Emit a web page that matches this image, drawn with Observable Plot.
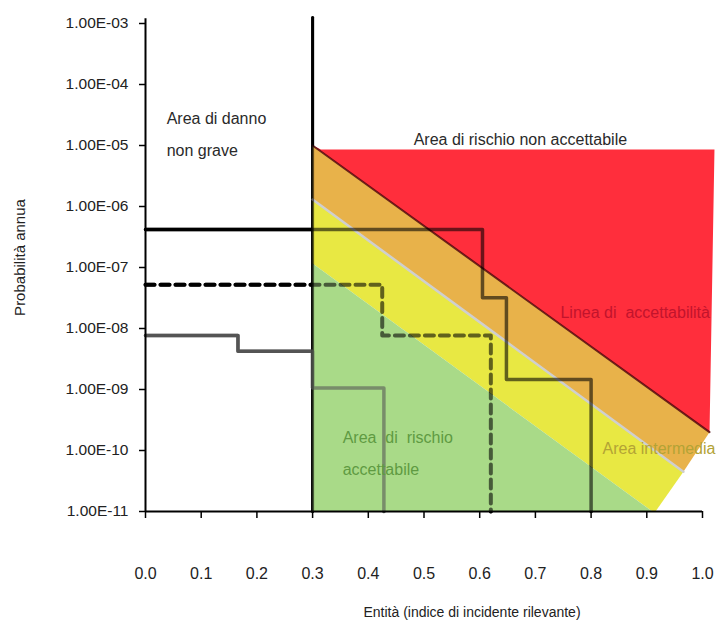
<!DOCTYPE html>
<html><head><meta charset="utf-8">
<script src="https://cdn.jsdelivr.net/npm/d3@7"></script>
<script src="https://cdn.jsdelivr.net/npm/@observablehq/plot@0.6"></script>
<style>
body{margin:0;background:#fff;}
#chart svg{display:block;}
</style></head><body><div id="chart"></div>
<script>
// Axis ticks and labels
const xTicks = [0, 0.1, 0.2, 0.3, 0.4, 0.5, 0.6, 0.7, 0.8, 0.9, 1.0];
const xTickLabels = ["0.0","0.1","0.2","0.3","0.4","0.5","0.6","0.7","0.8","0.9","1.0"];
const yTicks = [1e-11, 1e-10, 1e-9, 1e-8, 1e-7, 1e-6, 1e-5, 1e-4, 1e-3];
const yTickLabels = ["1.00E-11","1.00E-10","1.00E-09","1.00E-08","1.00E-07","1.00E-06","1.00E-05","1.00E-04","1.00E-03"];
const xTitle = "Entità (indice di incidente rilevante)";
const yTitle = "Probabilità annua";

// Region vertices (x = entità, y = probabilità)
const redX = [0.3, 0.315, 1.0215, 1.0126];
const redY = [1e-5, 8.6e-6, 8.6e-6, 2e-10];
const orangeX = [0.3, 1.0126, 0.9657, 0.3];
const orangeY = [1e-5, 2e-10, 4.5e-11, 1.3e-6];
const yellowX = [0.3, 0.9657, 0.9156, 0.91, 0.3];
const yellowY = [1.3e-6, 4.5e-11, 1e-11, 1e-11, 1.16e-7];
const greenX = [0.3, 0.91, 0.3];
const greenY = [1.16e-7, 1e-11, 1e-11];

// Boundary lines
const acceptX = [0.3, 1.0126];
const acceptY = [1e-5, 2e-10];
const grayBoundX = [0.3, 0.9657];
const grayBoundY = [1.3e-6, 4.5e-11];

// Threshold line at entità 0.3
const vertX = [0.3, 0.3];
const vertY = [1e-11, 1.25e-3];

// Step curves
const solidX = [0, 0.605, 0.605, 0.648, 0.648, 0.8, 0.8];
const solidY = [4.2e-7, 4.2e-7, 3.2e-8, 3.2e-8, 1.46e-9, 1.46e-9, 1e-11];
const dashedX = [0, 0.425, 0.425, 0.62, 0.62];
const dashedY = [5.2e-8, 5.2e-8, 7.7e-9, 7.7e-9, 1e-11];
const grayX = [0, 0.166, 0.166, 0.3, 0.3, 0.428, 0.428];
const grayY = [7.7e-9, 7.7e-9, 4.25e-9, 4.25e-9, 1.06e-9, 1.06e-9, 1e-11];

// Annotations
const annoText = ["Area di danno", "non grave", "Area di rischio non accettabile", "Linea di  accettabilità", "Area intermedia", "Area  di  rischio", "accettabile"];
const annoX = [0.038, 0.038, 0.673, 0.745, 0.8205, 0.354, 0.354];
const annoY = [2.77e-5, 8.3e-6, 1.25e-5, 1.83e-8, 1.08e-10, 1.63e-10, 4.9e-11];
const annoAnchor = ["start", "start", "middle", "start", "start", "start", "start"];
const annoColor = ["#2a2a2a", "#2a2a2a", "#2a2a2a", "#c2142c", "#b3a335", "#5f9a42", "#5f9a42"];

const pts = (xs, ys) => xs.map((x, i) => ({x, y: ys[i]}));
const red = pts(redX, redY), orange = pts(orangeX, orangeY), yellow = pts(yellowX, yellowY), green = pts(greenX, greenY);
const solid = pts(solidX, solidY), dashed = pts(dashedX, dashedY), gray = pts(grayX, grayY), vert = pts(vertX, vertY);
const accept = pts(acceptX, acceptY), grayBound = pts(grayBoundX, grayBoundY);
const annos = annoText.map((t, i) => ({t, x: annoX[i], y: annoY[i], a: annoAnchor[i], c: annoColor[i]}));

const stepMarks = (op) => [
  Plot.line(vert, {x: "x", y: "y", stroke: "#000", strokeWidth: 3, strokeOpacity: op}),
  Plot.line(gray, {x: "x", y: "y", stroke: "#555", strokeWidth: 3.5, strokeOpacity: op}),
  Plot.line(solid, {x: "x", y: "y", stroke: "#000", strokeWidth: 3.5, strokeOpacity: op}),
  Plot.line(dashed, {x: "x", y: "y", stroke: "#000", strokeWidth: 4, strokeDasharray: "9,6", strokeOpacity: op})
];

const chart = Plot.plot({
  width: 716,
  height: 621,
  marginLeft: 145,
  marginRight: 14,
  marginTop: 23,
  marginBottom: 110,
  style: {fontFamily: "'Liberation Sans', Arial, sans-serif", background: "#fff", color: "#000"},
  x: {domain: [0, 1]},
  y: {type: "log", domain: [1e-11, 1e-3]},
  marks: [
    ...stepMarks(1),
    Plot.line(red, {x: "x", y: "y", fill: "#ff2e3c", stroke: "none"}),
    Plot.line(orange, {x: "x", y: "y", fill: "#e8b24a", stroke: "none"}),
    Plot.line(yellow, {x: "x", y: "y", fill: "#e8e843", stroke: "none"}),
    Plot.line(green, {x: "x", y: "y", fill: "#a9da88", stroke: "none"}),
    Plot.line(grayBound, {x: "x", y: "y", stroke: "#cfcfcf", strokeWidth: 2.5}),
    Plot.line(accept, {x: "x", y: "y", stroke: "#4a0008", strokeWidth: 2, strokeOpacity: 0.8}),
    ...stepMarks(0.58),
    Plot.ruleY([1e-11], {stroke: "#000", strokeWidth: 2}),
    Plot.ruleX([0], {y1: 1e-11, y2: 1.2e-3, stroke: "#000", strokeWidth: 2}),
    Plot.axisX(xTicks, {tickSize: 7, tickPadding: 49, tickFormat: d => xTickLabels[xTicks.indexOf(d)], fontSize: 16, fill: "#222", stroke: "#000", strokeWidth: 1.5, label: null}),
    Plot.axisY(yTicks, {tickSize: 6, tickPadding: 11, tickFormat: d => yTickLabels[yTicks.indexOf(d)], fontSize: 15.5, fill: "#222", stroke: "#000", strokeWidth: 1.5, label: null}),
    Plot.text(annos.filter(d => d.a === "start"), {x: "x", y: "y", text: "t", textAnchor: "start", fill: "c", fontSize: 16, lineAnchor: "middle"}),
    Plot.text(annos.filter(d => d.a === "middle"), {x: "x", y: "y", text: "t", textAnchor: "middle", fill: "c", fontSize: 16, lineAnchor: "middle"}),
    Plot.text([xTitle], {frameAnchor: "bottom", dx: 48, dy: 101, text: d => d, fontSize: 14, fill: "#222", lineAnchor: "middle"}),
    Plot.text([yTitle], {frameAnchor: "left", dx: -125, dy: -10, rotate: -90, textAnchor: "middle", lineAnchor: "middle", text: d => d, fontSize: 15, fill: "#222"})
  ]
});
document.getElementById("chart").appendChild(chart);
</script>
</body></html>
